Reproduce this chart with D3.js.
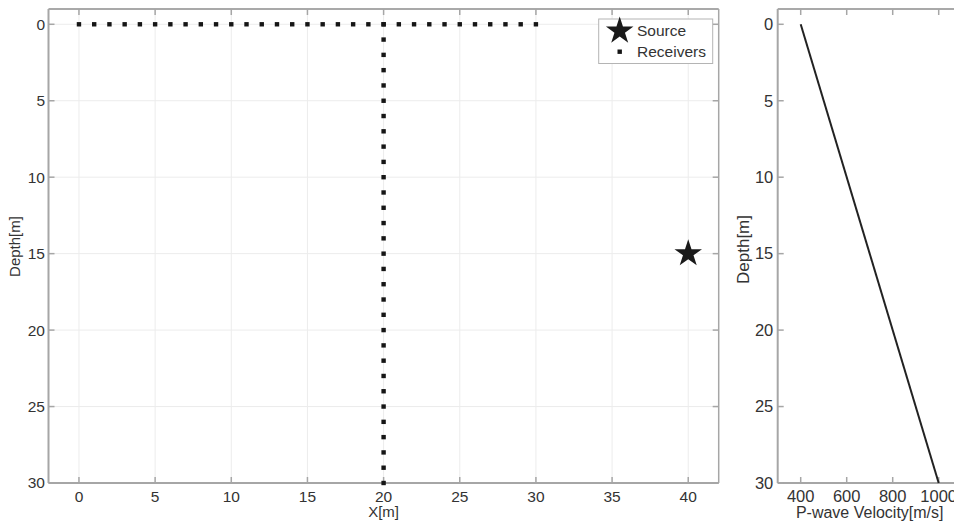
<!DOCTYPE html>
<html>
<head>
<meta charset="utf-8">
<script src="https://cdn.jsdelivr.net/npm/d3@7"></script>
<style>
  html, body { margin: 0; padding: 0; background: #fff; }
  svg { display: block; font-family: "Liberation Sans", Arial, Helvetica, sans-serif; }
</style>
</head>
<body>
<svg id="chart" width="954" height="525"></svg>
<script>
// Acquisition geometry: surface line and a vertical borehole line of receivers
const surfaceReceiverX = d3.range(0, 31, 1);          // x positions at depth 0 [m]
const boreholeReceiverDepth = d3.range(0, 31, 1);     // depths at x = 20 [m]
const boreholeX = 20;
const source = [{ x: 40, depth: 15 }];

// Velocity model: P-wave velocity against depth
const modelDepth = [0, 30];
const modelVelocity = [400, 1000];

// Tick labels
const xTicks = [0, 5, 10, 15, 20, 25, 30, 35, 40];
const depthTicks = [0, 5, 10, 15, 20, 25, 30];
const velocityTicks = [400, 600, 800, 1000];

const svg = d3.select("#chart");
const axisColor = "#a6a6a6";
const borderColor = "#8c8c8c";
const gridColor = "#ececec";
const textColor = "#333";
const tickLen = 6;

const plotTop = 9, plotBottom = 483;
const yScale = d3.scaleLinear().domain([-1, 30]).range([plotTop, plotBottom]);

// ---------- Left panel: geometry ----------
const L = { x0: 48.5, x1: 718.7 };
const xScale = d3.scaleLinear().domain([-2, 42]).range([L.x0, L.x1]);
const gL = svg.append("g");

// grid
gL.append("g").selectAll("line").data(xTicks).join("line")
  .attr("x1", d => xScale(d)).attr("x2", d => xScale(d))
  .attr("y1", plotTop).attr("y2", plotBottom)
  .attr("stroke", gridColor).attr("stroke-width", 1);
gL.append("g").selectAll("line").data(depthTicks).join("line")
  .attr("x1", L.x0).attr("x2", L.x1)
  .attr("y1", d => yScale(d)).attr("y2", d => yScale(d))
  .attr("stroke", gridColor).attr("stroke-width", 1);

function frame(g, x0, x1, xs, xt, yt, rightTicks, fontSize, yLabelGap) {
  // box
  g.append("line").attr("x1", x0).attr("x2", x1).attr("y1", plotTop).attr("y2", plotTop)
    .attr("stroke", borderColor).attr("stroke-width", 1.5);
  g.append("line").attr("x1", x0).attr("x2", x1).attr("y1", plotBottom).attr("y2", plotBottom)
    .attr("stroke", axisColor).attr("stroke-width", 2);
  g.append("line").attr("x1", x0).attr("x2", x0).attr("y1", plotTop).attr("y2", plotBottom)
    .attr("stroke", axisColor).attr("stroke-width", 2);
  if (rightTicks) {
    g.append("line").attr("x1", x1).attr("x2", x1).attr("y1", plotTop).attr("y2", plotBottom)
      .attr("stroke", axisColor).attr("stroke-width", 1.5);
  }
  // inward ticks
  const tk = g.append("g").attr("stroke", axisColor).attr("stroke-width", 1.5);
  xt.forEach(d => {
    tk.append("line").attr("x1", xs(d)).attr("x2", xs(d)).attr("y1", plotTop).attr("y2", plotTop + tickLen);
    tk.append("line").attr("x1", xs(d)).attr("x2", xs(d)).attr("y1", plotBottom).attr("y2", plotBottom - tickLen);
  });
  yt.forEach(d => {
    tk.append("line").attr("x1", x0).attr("x2", x0 + tickLen).attr("y1", yScale(d)).attr("y2", yScale(d));
    if (rightTicks) {
      tk.append("line").attr("x1", x1).attr("x2", x1 - tickLen).attr("y1", yScale(d)).attr("y2", yScale(d));
    }
  });
  // tick labels
  g.append("g").selectAll("text").data(xt).join("text")
    .attr("x", d => xs(d)).attr("y", plotBottom + 18.5)
    .attr("text-anchor", "middle").attr("font-size", fontSize).attr("fill", textColor)
    .text(d => d);
  g.append("g").selectAll("text").data(yt).join("text")
    .attr("x", x0 - yLabelGap).attr("y", d => yScale(d)).attr("dy", "0.35em")
    .attr("text-anchor", "end").attr("font-size", fontSize).attr("fill", textColor)
    .text(d => d);
}
frame(gL, L.x0, L.x1, xScale, xTicks, depthTicks, true, 15.5, 3.5);

// receivers
const recv = surfaceReceiverX.map(x => ({ x, depth: 0 }))
  .concat(boreholeReceiverDepth.map(z => ({ x: boreholeX, depth: z })));
gL.append("g").selectAll("rect").data(recv).join("rect")
  .attr("x", d => xScale(d.x) - 2.2).attr("y", d => yScale(d.depth) - 2.2)
  .attr("width", 4.4).attr("height", 4.4).attr("fill", "#151515");

// source
const star = d3.symbol().type(d3.symbolStar).size(235);
gL.append("g").selectAll("path").data(source).join("path")
  .attr("d", star)
  .attr("transform", d => `translate(${xScale(d.x)},${yScale(d.depth)})`)
  .attr("fill", "#1a1a1a");

// axis titles
gL.append("text").attr("x", (L.x0 + L.x1) / 2).attr("y", 516.5)
  .attr("text-anchor", "middle").attr("font-size", 15).attr("fill", textColor).text("X[m]");
gL.append("text").attr("transform", `translate(20,246.5) rotate(-90)`)
  .attr("text-anchor", "middle").attr("font-size", 15).attr("fill", textColor).text("Depth[m]");

// legend
const lg = gL.append("g");
lg.append("rect").attr("x", 598.7).attr("y", 19).attr("width", 114).attr("height", 44.5)
  .attr("fill", "#fff").attr("stroke", "#b4b4b4").attr("stroke-width", 1);
lg.append("path").attr("d", star).attr("transform", "translate(619.7,31)").attr("fill", "#1a1a1a");
lg.append("rect").attr("x", 619.7 - 2.2).attr("y", 51.7 - 2.2).attr("width", 4.4).attr("height", 4.4)
  .attr("fill", "#151515");
lg.append("text").attr("x", 637).attr("y", 31).attr("dy", "0.35em")
  .attr("font-size", 15.5).attr("fill", textColor).text("Source");
lg.append("text").attr("x", 637).attr("y", 52).attr("dy", "0.35em")
  .attr("font-size", 15.5).attr("fill", textColor).text("Receivers");

// ---------- Right panel: velocity profile ----------
const R = { x0: 777.7, x1: 961.7 };
const vScale = d3.scaleLinear().domain([300, 1100]).range([R.x0, R.x1]);
const gR = svg.append("g");
frame(gR, R.x0, R.x1, vScale, velocityTicks, depthTicks, false, 16.5, 4.4);

const profile = modelDepth.map((z, i) => ({ depth: z, v: modelVelocity[i] }));
gR.append("path").datum(profile)
  .attr("d", d3.line().x(d => vScale(d.v)).y(d => yScale(d.depth)))
  .attr("fill", "none").attr("stroke", "#222").attr("stroke-width", 2);

gR.append("text").attr("x", (R.x0 + R.x1) / 2).attr("y", 517.5)
  .attr("text-anchor", "middle").attr("font-size", 16).attr("fill", textColor).text("P-wave Velocity[m/s]");
gR.append("text").attr("transform", `translate(748.5,249.5) rotate(-90)`)
  .attr("text-anchor", "middle").attr("font-size", 17).attr("fill", textColor).text("Depth[m]");
</script>
</body>
</html>
